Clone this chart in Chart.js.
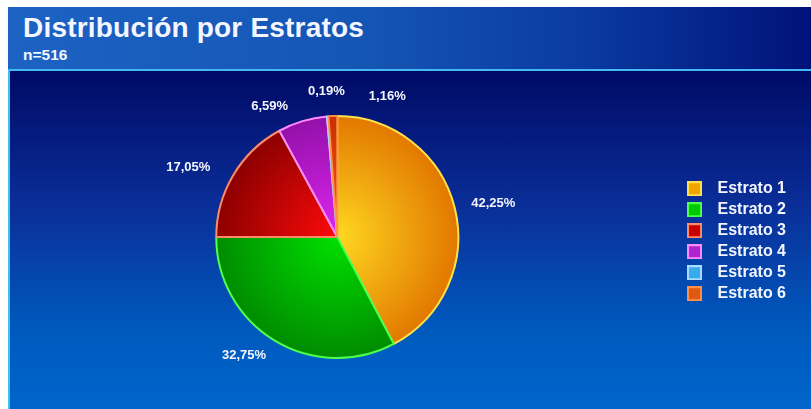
<!DOCTYPE html>
<html lang="es">
<head>
<meta charset="utf-8">
<title>Distribución por Estratos</title>
<script src="https://cdn.jsdelivr.net/npm/chart.js@4.4.1/dist/chart.umd.min.js"></script>
<style>
  html, body { margin: 0; padding: 0; background: #fff; }
  body { width: 811px; height: 409px; position: relative; overflow: hidden; font-family: "Liberation Sans", Arial, sans-serif; }
  #header {
    position: absolute; left: 8px; top: 7px; width: 803px; height: 62px;
    background: linear-gradient(to right, #1c63c3 0%, #1555b4 45%, #0a3aa0 72%, #00127a 100%);
  }
  #header h1 {
    position: absolute; left: 15px; top: 5px; margin: 0;
    font-size: 28px; font-weight: bold; color: #f4f6ff; letter-spacing: 0.2px;
  }
  #header .n {
    position: absolute; left: 15px; top: 39px;
    font-size: 15.5px; font-weight: bold; color: #f4f6ff;
  }
  #sep { position: absolute; left: 8px; top: 69px; width: 803px; height: 2px; background: #46b8f2; }
  #main {
    position: absolute; left: 8px; top: 71px; width: 801px; height: 338px;
    border-left: 2px solid #3fc0f0;
    background: linear-gradient(to bottom, #000a66 0%, #0a2e98 40%, #0058bc 75%, #0066cc 100%);
  }
  #main canvas { display: block; position: absolute; left: -10px; top: 0; }
</style>
</head>
<body>
<div id="header">
  <h1>Distribución por Estratos</h1>
  <div class="n">n=516</div>
</div>
<div id="sep"></div>
<div id="main"><canvas id="pie" width="811" height="338"></canvas></div>

<script>
// categories and their share of the 516 respondents
const categories = ['Estrato 1', 'Estrato 2', 'Estrato 3', 'Estrato 4', 'Estrato 5', 'Estrato 6'];
const percentages = [42.25, 32.75, 17.05, 6.59, 0.19, 1.16];

// slice shading: bright toward the centre, darker at the rim
const centerColors = ['#ffd820', '#00e000', '#ff0a0a', '#de26ee', '#60c0ff', '#ff5a14'];
const edgeColors   = ['#e27800', '#008c00', '#8c0000', '#9410aa', '#2288dd', '#c83000'];
const borderColors = ['#ffe24a', '#4cff4c', '#ff8a66', '#ff8cff', '#a8dcff', '#ff9048'];
const swatchFill   = ['#f0a400', '#00c800', '#c80000', '#b024d0', '#38aaee', '#e05812'];

const fmt = v => v.toFixed(2).replace('.', ',') + '%';

// small square swatches used as legend point styles
function makeSwatch(fill, stroke) {
  const c = document.createElement('canvas');
  c.width = 15; c.height = 15;
  const g = c.getContext('2d');
  g.fillStyle = stroke;
  g.fillRect(0, 0, 15, 15);
  g.fillStyle = fill;
  g.fillRect(2, 2, 11, 11);
  return c;
}
const swatches = categories.map((_, i) => makeSwatch(swatchFill[i], borderColors[i]));

// percent labels placed just outside the rim, nudged sideways if they collide
const outsideLabels = {
  id: 'outsideLabels',
  afterDatasetsDraw(chart) {
    const ctx = chart.ctx;
    const meta = chart.getDatasetMeta(0);
    const boxes = [];
    ctx.save();
    ctx.font = 'bold 13px "Liberation Sans", Arial, sans-serif';
    ctx.fillStyle = '#f4f6ff';
    meta.data.forEach((arc, i) => {
      const text = fmt(percentages[i]);
      const w = ctx.measureText(text).width;
      const h = 13;
      const mid = (arc.startAngle + arc.endAngle) / 2;
      const cos = Math.cos(mid), sin = Math.sin(mid);
      const upperLeft = cos < -0.25 && sin < 0;
      const r = arc.outerRadius + (upperLeft ? 15 : 17);
      let x = arc.x + cos * r - (upperLeft ? 10 : 0);
      let y = arc.y + sin * r;
      let left;
      if (cos > 0.25) left = x;
      else if (cos < -0.25) left = x - w;
      else { left = x - w / 2; if (sin < 0) y -= 8; }
      let box = { l: left, r: left + w, t: y - h / 2, b: y + h / 2 };
      boxes.forEach(o => {
        if (box.l < o.r && box.r > o.l && box.t < o.b && box.b > o.t) {
          const shift = o.r + 24 - box.l;
          box = { l: box.l + shift, r: box.r + shift, t: box.t + 5, b: box.b + 5 };
        }
      });
      boxes.push(box);
      ctx.textAlign = 'left';
      ctx.textBaseline = 'middle';
      ctx.fillText(text, box.l, (box.t + box.b) / 2);
    });
    ctx.restore();
  }
};

new Chart(document.getElementById('pie'), {
  type: 'pie',
  data: {
    labels: categories,
    datasets: [{
      data: percentages,
      backgroundColor: (c) => {
        const chart = c.chart;
        const area = chart.chartArea;
        const ctrl = chart.getDatasetMeta(0).controller;
        if (!area || !ctrl.outerRadius) return edgeColors[c.dataIndex];
        const cx = (area.left + area.right) / 2;
        const cy = (area.top + area.bottom) / 2;
        const g = chart.ctx.createRadialGradient(cx, cy, 0, cx, cy, ctrl.outerRadius);
        g.addColorStop(0, centerColors[c.dataIndex]);
        g.addColorStop(1, edgeColors[c.dataIndex]);
        return g;
      },
      borderColor: borderColors,
      borderWidth: 2
    }]
  },
  options: {
    responsive: false,
    animation: false,
    events: [],
    layout: { padding: { top: 44, bottom: 50, left: 0, right: 15 } },
    plugins: {
      tooltip: { enabled: false },
      legend: {
        position: 'right',
        // blank title row just pushes the entries down a touch
        title: { display: true, text: ' ', font: { size: 7 } },
        labels: {
          color: '#f4f6ff',
          font: { family: '"Liberation Sans", Arial, sans-serif', size: 16, weight: 'bold', lineHeight: 1 },
          usePointStyle: true,
          pointStyleWidth: 30,
          boxHeight: 15,
          padding: 5,
          generateLabels: () => categories.map((name, i) => ({
            text: name,
            pointStyle: swatches[i],
            fillStyle: swatchFill[i],
            strokeStyle: borderColors[i],
            fontColor: '#f4f6ff',
            lineWidth: 0,
            hidden: false,
            index: i
          }))
        }
      }
    }
  },
  plugins: [outsideLabels]
});
</script>
</body>
</html>
